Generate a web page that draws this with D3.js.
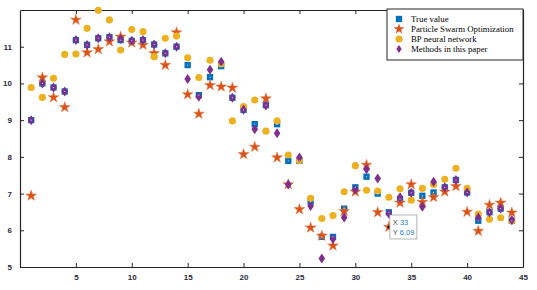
<!DOCTYPE html>
<head>
	<meta charset="utf-8">
	<script src="https://d3js.org/d3.v7.min.js"></script>
	<style type="text/css">
		body { margin: 0; background: #fff; }
		.axis text { font-family: "Liberation Sans", Arial, sans-serif; font-size: 8px; font-weight: bold; fill: #2a2a3a; }
		.axis line, .axis path { stroke: #262626; }
		.legend text { font-family: "Liberation Serif", "Times New Roman", serif; font-size: 8.8px; fill: #000; }
	</style>
</head>
<body>
	<script type="text/javascript">
		const xs = d3.range(1, 45)
		const trueVal = [9.0,10.0,9.89,9.78,11.18,11.05,11.23,11.26,11.18,11.16,11.18,11.06,10.82,11.0,10.5,9.68,10.17,10.47,9.61,9.28,8.89,9.41,8.89,7.89,7.89,6.78,5.82,5.82,6.59,7.17,7.46,7.0,6.49,6.85,7.02,6.94,7.03,7.17,7.37,7.03,6.26,6.49,6.59,6.26]
		const pso = [6.94,10.16,9.62,9.35,11.73,10.84,10.93,11.14,11.27,11.11,11.05,10.82,10.5,11.39,9.70,9.17,9.95,9.91,9.88,8.07,8.27,9.59,7.98,7.25,6.57,6.07,5.85,5.58,6.52,7.05,7.78,6.49,6.09,6.75,7.25,6.77,6.90,7.05,7.20,6.50,5.98,6.69,6.75,6.48]
		const bp = [9.89,9.62,10.14,10.79,10.80,11.5,11.99,11.73,10.91,11.47,11.41,10.73,11.23,11.29,10.70,10.16,10.63,10.53,8.98,9.37,9.55,8.70,8.98,8.05,7.9,6.87,6.32,6.40,7.05,7.76,7.09,7.07,6.90,7.13,6.82,7.14,7.25,7.39,7.69,7.14,6.44,6.30,6.34,6.25]
		const ours = [9.0,10.0,9.89,9.78,11.18,11.05,11.23,11.26,11.21,11.16,11.18,11.06,10.82,11.0,10.12,9.64,10.37,10.59,9.61,9.28,8.75,9.40,8.64,7.25,7.98,6.66,5.23,5.76,6.35,7.11,7.66,7.41,6.45,6.9,7.02,6.64,7.32,7.17,7.37,7.03,6.35,6.49,6.59,6.28]
		const xTicks = [5,10,15,20,25,30,35,40,45]
		const yTicks = [5,6,7,8,9,10,11]
		const seriesNames = ['True value','Particle Swarm Optimization','BP neural network','Methods in this paper']
		const tip = {x: 33, y: 6.09}

		const W = 537, H = 290
		const pLeft = 20, pRight = 523, pTop = 10, pBottom = 267

		const svg = d3.select('body').append('svg')
			.attr('width', W)
			.attr('height', H)

		const x = d3.scaleLinear().domain([0, 45]).range([pLeft, pRight])
		const y = d3.scaleLinear().domain([5, 12]).range([pBottom, pTop])

		// axes box with inward ticks on every side
		svg.append('g').attr('class', 'axis')
			.attr('transform', 'translate(0,'+pBottom+')')
			.call(d3.axisBottom(x).tickValues(xTicks).tickSize(-4).tickPadding(7).tickSizeOuter(0))
		svg.append('g').attr('class', 'axis')
			.attr('transform', 'translate(0,'+pTop+')')
			.call(d3.axisTop(x).tickValues(xTicks).tickSize(-4).tickFormat('').tickSizeOuter(0))
		svg.append('g').attr('class', 'axis')
			.attr('transform', 'translate('+pLeft+',0)')
			.call(d3.axisLeft(y).tickValues(yTicks).tickSize(-4).tickPadding(8).tickFormat(d3.format('d')).tickSizeOuter(0))
		svg.append('g').attr('class', 'axis')
			.attr('transform', 'translate('+pRight+',0)')
			.call(d3.axisRight(y).tickValues(yTicks).tickSize(-4).tickFormat('').tickSizeOuter(0))
		svg.selectAll('.axis .domain').attr('stroke-width', 1.2)

		const colors = ['#0072BD', '#D95319', '#EDB120', '#7E2F8E']
		const square = d3.symbol().type(d3.symbolSquare).size(40)
		const star = d3.symbol().type(d3.symbolStar).size(36)
		const circle = d3.symbol().type(d3.symbolCircle).size(40)
		const diamond = 'M0,-5L3.3,0L0,5L-3.3,0Z'
		const shapes = [square(), star(), circle(), diamond]

		const all = [trueVal, pso, bp, ours]
		const marks = svg.append('g').attr('class', 'marks')
		all.forEach(function(vals, i) {
			marks.append('g').selectAll('path')
				.data(vals)
				.enter().append('path')
				.attr('d', shapes[i])
				.attr('transform', (d, j) => 'translate('+x(xs[j])+','+y(d)+')')
				.attr('fill', colors[i])
				.attr('stroke', i == 1 ? '#e8703a' : 'none')
				.attr('stroke-width', 0.5)
		})
		// white centre dot of the squares
		marks.append('g').selectAll('rect')
			.data(trueVal)
			.enter().append('rect')
			.attr('x', (d, j) => x(xs[j]) - 0.5)
			.attr('y', d => y(d) - 0.5)
			.attr('width', 1).attr('height', 1)
			.attr('fill', '#cfe3f5')

		// legend
		const lg = svg.append('g').attr('class', 'legend')
		lg.append('rect')
			.attr('x', 387).attr('y', 9)
			.attr('width', 136).attr('height', 51)
			.attr('fill', '#fff').attr('stroke', '#262626').attr('stroke-width', 1)
		seriesNames.forEach(function(name, i) {
			const ly = 19 + i * 10
			lg.append('path')
				.attr('d', shapes[i])
				.attr('transform', 'translate(399,'+ly+')'+(i == 3 ? ' scale(0.8)' : ''))
				.attr('fill', colors[i])
			lg.append('text')
				.attr('x', 411).attr('y', ly + 3.3)
				.text(name)
		})

		// data tip
		const tx = x(tip.x), ty = y(tip.y)
		svg.append('circle').attr('cx', tx).attr('cy', ty).attr('r', 1.5).attr('fill', '#000')
		const tg = svg.append('g')
		tg.append('rect')
			.attr('x', tx + 1).attr('y', ty - 12)
			.attr('width', 27).attr('height', 24)
			.attr('fill', '#fff').attr('stroke', '#a0a0a0').attr('stroke-width', 0.8)
		const lines = [['X ', tip.x], ['Y ', tip.y.toFixed(2)]]
		lines.forEach(function(l, i) {
			const t = tg.append('text')
				.attr('x', tx + 4).attr('y', ty - 2 + i * 10)
				.style('font-family', '"Liberation Sans", Arial, sans-serif')
				.style('font-size', '7.5px')
			t.append('tspan').attr('fill', '#555').text(l[0])
			t.append('tspan').attr('fill', '#1a7fd0').text(l[1])
		})
	</script>
</body>
